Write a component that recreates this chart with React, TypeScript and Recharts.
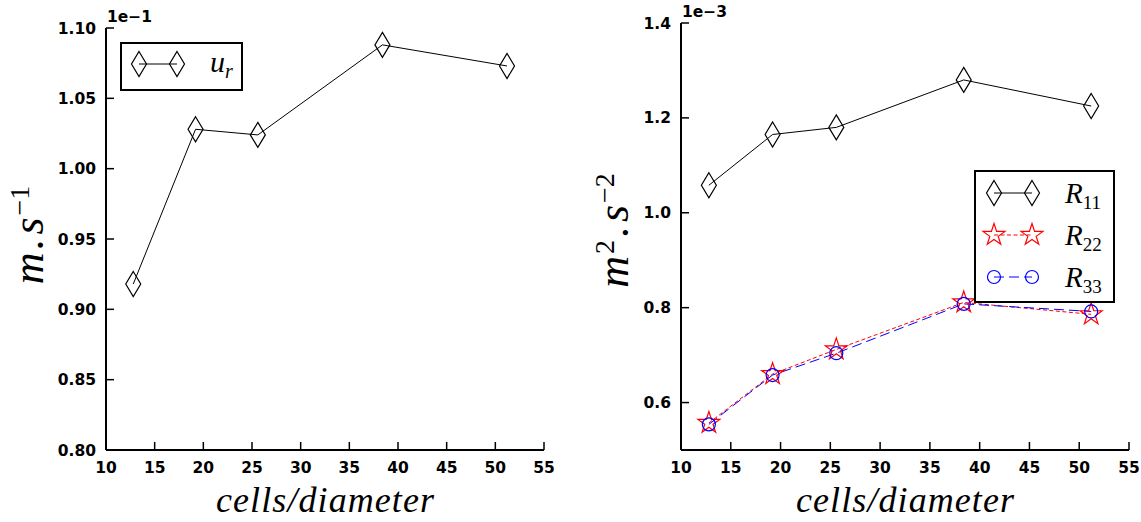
import { LineChart, Line, XAxis, YAxis, Legend } from "recharts";

// grid resolution (cells per diameter) and measured quantities
const cellsPerDiameter = [12.8, 19.2, 25.6, 38.4, 51.2];
const urValues = [0.918, 1.028, 1.024, 1.088, 1.073]; // x 1e-1
const r11Values = [1.058, 1.165, 1.18, 1.28, 1.225]; // x 1e-3
const r22Values = [0.557, 0.66, 0.712, 0.811, 0.786];
const r33Values = [0.554, 0.658, 0.704, 0.808, 0.792];

const xTicks = [10, 15, 20, 25, 30, 35, 40, 45, 50, 55];
const urTicks = [0.8, 0.85, 0.9, 0.95, 1.0, 1.05, 1.1];
const stressTicks = [0.6, 0.8, 1.0, 1.2, 1.4];

const velocityData = cellsPerDiameter.map((c, i) => ({ cells: c, ur: urValues[i] }));
const stressData = cellsPerDiameter.map((c, i) => ({
  cells: c,
  r11: r11Values[i],
  r22: r22Values[i],
  r33: r33Values[i],
}));

const RED = "#ff0000";
const BLUE = "#0000ff";
const TICK_FONT = "'DejaVu Sans', sans-serif";
const MATH_FONT = "'Liberation Serif', 'DejaVu Serif', serif";

const Diamond = ({ cx, cy }: { cx: number; cy: number }) => (
  <path
    d={`M${cx},${cy - 12.5}L${cx + 7.5},${cy}L${cx},${cy + 12.5}L${cx - 7.5},${cy}Z`}
    fill="none"
    stroke="#000"
    strokeWidth={1.2}
  />
);

const Star = ({ cx, cy }: { cx: number; cy: number }) => {
  const pts: string[] = [];
  for (let k = 0; k < 10; k++) {
    const r = k % 2 === 0 ? 11.5 : 4.4;
    const a = -Math.PI / 2 + (k * Math.PI) / 5;
    pts.push(`${cx + r * Math.cos(a)},${cy + r * Math.sin(a)}`);
  }
  return <polygon points={pts.join(" ")} fill="none" stroke={RED} strokeWidth={1.2} />;
};

const Ring = ({ cx, cy }: { cx: number; cy: number }) => (
  <circle cx={cx} cy={cy} r={6.5} fill="none" stroke={BLUE} strokeWidth={1.2} />
);

const XTick = ({ x, y, payload }: any) => (
  <g>
    <line x1={x} x2={x} y1={y} y2={y - 8} stroke="#000" strokeWidth={1.5} />
    <text x={x} y={y + 23} textAnchor="middle" fontFamily={TICK_FONT} fontWeight="bold" fontSize={15.5} fill="#000">
      {payload.value}
    </text>
  </g>
);

const makeYTick = (digits: number) => ({ x, y, payload }: any) => (
  <g>
    <line x1={x} x2={x + 8} y1={y} y2={y} stroke="#000" strokeWidth={1.5} />
    <text x={x - 10} y={y + 5.5} textAnchor="end" fontFamily={TICK_FONT} fontWeight="bold" fontSize={15.5} fill="#000">
      {Number(payload.value).toFixed(digits)}
    </text>
  </g>
);

const xLabel = (props: any) => {
  const vb = props.viewBox;
  return (
    <text
      x={vb.x + vb.width / 2}
      y={vb.y + 62}
      textAnchor="middle"
      fontFamily={MATH_FONT}
      fontStyle="italic"
      fontSize={36}
      textLength={218}
      lengthAdjust="spacing"
      fill="#000"
    >
      cells/diameter
    </text>
  );
};

const yLabelVelocity = (props: any) => {
  const vb = props.viewBox;
  const bx = 43;
  const cy = vb.y + vb.height / 2 - 4;
  return (
    <g>
      <text x={vb.x + vb.width + 1} y={vb.y - 6} fontFamily={TICK_FONT} fontWeight="bold" fontSize={15.5} fill="#000">
        1e−1
      </text>
      <text
        x={bx}
        y={cy}
        transform={`rotate(-90 ${bx} ${cy})`}
        textAnchor="middle"
        fontFamily={MATH_FONT}
        fontStyle="italic"
        fontSize={44}
        fill="#000"
      >
        m<tspan dx={3}>.</tspan>
        <tspan dx={4}>s</tspan>
        <tspan dy={-14} dx={2} fontSize={28} fontStyle="normal">−1</tspan>
      </text>
    </g>
  );
};

const yLabelStress = (props: any) => {
  const vb = props.viewBox;
  const bx = 58;
  const cy = vb.y + vb.height / 2 - 6;
  return (
    <g>
      <text x={vb.x + vb.width + 1} y={vb.y - 6} fontFamily={TICK_FONT} fontWeight="bold" fontSize={15.5} fill="#000">
        1e−3
      </text>
      <text
        x={bx}
        y={cy}
        transform={`rotate(-90 ${bx} ${cy})`}
        textAnchor="middle"
        fontFamily={MATH_FONT}
        fontStyle="italic"
        fontSize={44}
        fill="#000"
      >
        m
        <tspan dy={-14} dx={2} fontSize={28} fontStyle="normal">2</tspan>
        <tspan dy={14} dx={3}>.</tspan>
        <tspan dx={4}>s</tspan>
        <tspan dy={-14} dx={2} fontSize={28} fontStyle="normal">−2</tspan>
      </text>
    </g>
  );
};

const velocityLegend = () => (
  <svg width={123} height={49} style={{ display: "block" }}>
    <rect x={1} y={1} width={121} height={47} fill="#fff" stroke="#000" strokeWidth={2} />
    <line x1={19} x2={57} y1={22} y2={22} stroke="#000" strokeWidth={1} />
    <Diamond cx={19} cy={22} />
    <Diamond cx={57} cy={22} />
    <text x={90} y={30} fontFamily={MATH_FONT} fontStyle="italic" fontSize={30} fill="#000">
      u<tspan dy={6} fontSize={20}>r</tspan>
    </text>
  </svg>
);

const stressRows = [
  { name: "11", color: "#000", dash: undefined, Mark: Diamond },
  { name: "22", color: RED, dash: "4 2.5", Mark: Star },
  { name: "33", color: BLUE, dash: "10 5", Mark: Ring },
];

const stressLegend = () => (
  <svg width={141} height={133} style={{ display: "block" }}>
    <rect x={1} y={1} width={139} height={131} fill="#fff" stroke="#000" strokeWidth={2} />
    {stressRows.map((row, i) => {
      const y = 23 + i * 42;
      const Mark = row.Mark;
      return (
        <g key={row.name}>
          <line x1={20} x2={58} y1={y} y2={y} stroke={row.color} strokeWidth={1} strokeDasharray={row.dash} />
          <Mark cx={20} cy={y} />
          <Mark cx={58} cy={y} />
          <text x={91} y={y + 10} fontFamily={MATH_FONT} fontStyle="italic" fontSize={29} fill="#000">
            R
            <tspan dy={6} fontSize={19} fontStyle="normal">{row.name}</tspan>
          </text>
        </g>
      );
    })}
  </svg>
);

export default function App() {
  return (
    <div style={{ position: "absolute", left: 0, top: 0, width: 1141, height: 522, background: "#fff" }}>
      <div style={{ position: "absolute", left: 0, top: 0 }}>
        <LineChart width={570} height={522} data={velocityData} margin={{ top: 28, right: 26, bottom: 32, left: 46 }}>
          <XAxis
            dataKey="cells"
            type="number"
            domain={[10, 55]}
            ticks={xTicks}
            interval={0}
            height={40}
            tickSize={0}
            tickMargin={0}
            tickLine={false}
            axisLine={{ stroke: "#000", strokeWidth: 2 }}
            tick={XTick}
            label={xLabel}
          />
          <YAxis
            type="number"
            domain={[0.8, 1.1]}
            ticks={urTicks}
            interval={0}
            width={60}
            tickSize={0}
            tickMargin={0}
            tickLine={false}
            axisLine={{ stroke: "#000", strokeWidth: 2 }}
            tick={makeYTick(2)}
            label={yLabelVelocity}
          />
          <Legend
            content={velocityLegend}
            layout="vertical"
            align="center"
            verticalAlign="middle"
            wrapperStyle={{ left: 120, top: 42, width: 123, height: 49 }}
          />
          <Line
            dataKey="ur"
            type="linear"
            stroke="#000"
            strokeWidth={1}
            isAnimationActive={false}
            dot={(p: any) => <Diamond key={`ur-${p.index}`} cx={p.cx} cy={p.cy} />}
            activeDot={false}
          />
        </LineChart>
      </div>
      <div style={{ position: "absolute", left: 570, top: 0 }}>
        <LineChart width={571} height={522} data={stressData} margin={{ top: 23, right: 12, bottom: 32, left: 51 }}>
          <XAxis
            dataKey="cells"
            type="number"
            domain={[10, 55]}
            ticks={xTicks}
            interval={0}
            height={40}
            tickSize={0}
            tickMargin={0}
            tickLine={false}
            axisLine={{ stroke: "#000", strokeWidth: 2 }}
            tick={XTick}
            label={xLabel}
          />
          <YAxis
            type="number"
            domain={[0.5, 1.4]}
            ticks={stressTicks}
            interval={0}
            width={60}
            tickSize={0}
            tickMargin={0}
            tickLine={false}
            axisLine={{ stroke: "#000", strokeWidth: 2 }}
            tick={makeYTick(1)}
            label={yLabelStress}
          />
          <Legend
            content={stressLegend}
            layout="vertical"
            align="center"
            verticalAlign="middle"
            wrapperStyle={{ left: 404, top: 170, width: 141, height: 133 }}
          />
          <Line
            dataKey="r11"
            type="linear"
            stroke="#000"
            strokeWidth={1}
            isAnimationActive={false}
            dot={(p: any) => <Diamond key={`r11-${p.index}`} cx={p.cx} cy={p.cy} />}
            activeDot={false}
          />
          <Line
            dataKey="r22"
            type="linear"
            stroke={RED}
            strokeWidth={1}
            strokeDasharray="4 2.5"
            isAnimationActive={false}
            dot={(p: any) => <Star key={`r22-${p.index}`} cx={p.cx} cy={p.cy} />}
            activeDot={false}
          />
          <Line
            dataKey="r33"
            type="linear"
            stroke={BLUE}
            strokeWidth={1}
            strokeDasharray="10 5"
            isAnimationActive={false}
            dot={(p: any) => <Ring key={`r33-${p.index}`} cx={p.cx} cy={p.cy} />}
            activeDot={false}
          />
        </LineChart>
      </div>
    </div>
  );
}
